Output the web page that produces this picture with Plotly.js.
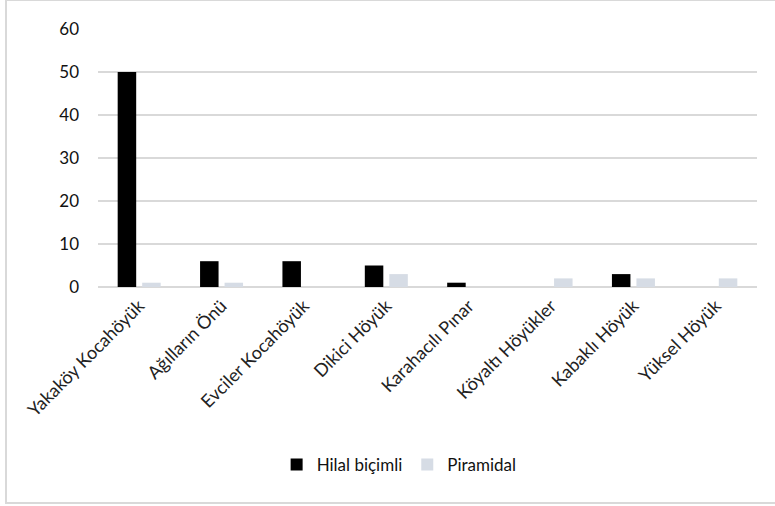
<!DOCTYPE html>
<html>
<head>
<meta charset="utf-8">
<script src="https://cdn.plot.ly/plotly-3.0.1.min.js"></script>
<style>
html,body{margin:0;padding:0;background:#fff;overflow:hidden;}
#frame{position:absolute;left:5px;top:-1px;width:820px;height:501px;border:2px solid #d9d9d9;box-sizing:content-box;}
#chart{position:absolute;left:0;top:0;width:775px;height:506px;}
</style>
</head>
<body>
<div id="frame"></div>
<div id="chart"></div>
<script>
var categories = ["Yakaköy Kocahöyük","Ağılların Önü","Evciler Kocahöyük","Dikici Höyük","Karahacılı Pınar","Köyaltı Höyükler","Kabaklı Höyük","Yüksel Höyük"];
var hilalValues = [50, 6, 6, 5, 1, 0, 3, 0];
var piramidalValues = [1, 1, 0, 3, 0, 2, 2, 2];
var yTicks = [0, 10, 20, 30, 40, 50, 60];

var traces = [
  {type:'bar', name:'Hilal biçimli', x:categories, y:hilalValues, marker:{color:'#000000'}},
  {type:'bar', name:'Piramidal', x:categories, y:piramidalValues, marker:{color:'#d6dce5'}}
];
var layout = {
  width:775, height:506,
  paper_bgcolor:'rgba(0,0,0,0)', plot_bgcolor:'rgba(0,0,0,0)',
  margin:{l:98, r:18, t:29, b:219},
  barmode:'group', bargap:0.405, bargroupgap:0.245,
  font:{family:'Lato, "Open Sans", sans-serif', size:17, color:'#222222'},
  xaxis:{tickangle:-45, showgrid:false, showline:false, ticks:'', ticklabelstandoff:4, tickfont:{size:18, color:'#222222'}, automargin:false},
  yaxis:{range:[0,60], tickvals:yTicks, showgrid:true, gridcolor:'#d9d9d9', gridwidth:1.3, zeroline:true, zerolinecolor:'#d9d9d9', zerolinewidth:1.3, showline:false, ticks:'', ticklabelstandoff:18, tickfont:{size:17, color:'#111111'}, automargin:false},
  legend:{orientation:'h', x:0.515, xref:'container', xanchor:'center', y:0.081, yref:'container', yanchor:'middle', font:{size:17, color:'#111111'}, itemwidth:30, traceorder:'normal'},
  showlegend:true
};
Plotly.newPlot('chart', traces, layout, {displayModeBar:false, staticPlot:true});
</script>
</body>
</html>
